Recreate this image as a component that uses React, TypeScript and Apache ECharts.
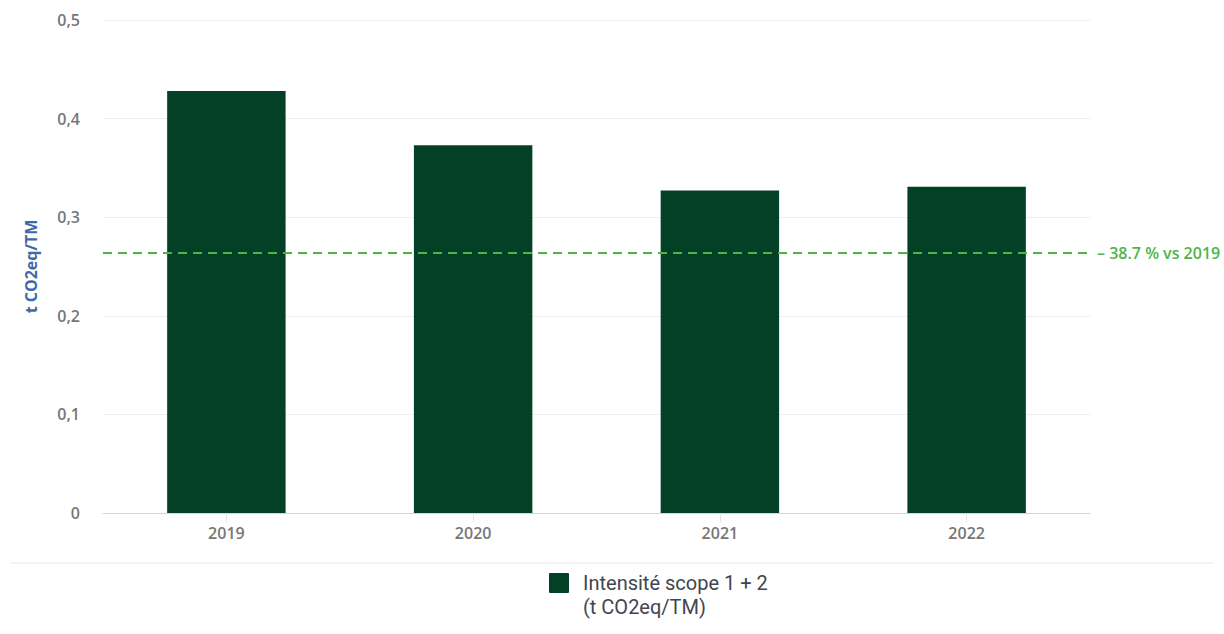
import React, { useEffect, useRef } from "react";
import * as echarts from "echarts";

const categories = ["2019", "2020", "2021", "2022"];
const intensity = [0.428, 0.373, 0.327, 0.331];
const targetValue = 0.264;
const targetLabel = "– 38.7 % vs 2019";
const legendLines = ["Intensité scope 1 + 2", "(t CO2eq/TM)"];
const yAxisName = "t CO2eq/TM";
const barColor = "#034026";

export default function App() {
  const ref = useRef<HTMLDivElement>(null);
  useEffect(() => {
    if (!ref.current) return;
    const chart = echarts.init(ref.current, undefined, { renderer: "svg" });
    chart.setOption({
      animation: false,
      backgroundColor: "#ffffff",
      grid: { left: 103, right: 134, top: 20, bottom: 121, containLabel: false },
      legend: { show: false },
      graphic: [
        {
          type: "line",
          shape: { x1: 10, y1: 563, x2: 1214, y2: 563 },
          style: { stroke: "#e8e8e8", lineWidth: 1 },
        },
        {
          type: "rect",
          shape: { x: 549, y: 573, width: 20, height: 20, r: 1 },
          style: { fill: barColor },
        },
        {
          type: "text",
          x: 583,
          y: 571,
          style: {
            text: legendLines.join("\n"),
            fontFamily: "Roboto",
            fontSize: 20,
            lineHeight: 24,
            fill: "#3f4650",
          },
        },
      ],
      xAxis: {
        type: "category",
        data: categories,
        axisLine: { lineStyle: { color: "#ccd6eb", width: 1 } },
        axisTick: { show: true, alignWithLabel: true, length: 9, lineStyle: { color: "#e0e4f0" } },
        axisLabel: { color: "#777777", fontFamily: "Open Sans", fontSize: 16, fontWeight: 600, margin: 12 },
      },
      yAxis: {
        type: "value",
        min: 0,
        max: 0.5,
        interval: 0.1,
        name: yAxisName,
        nameLocation: "middle",
        nameGap: 64,
        nameRotate: 90,
        nameTextStyle: { color: "#3f6aa6", fontFamily: "Open Sans", fontSize: 16, fontWeight: "bold" },
        axisLine: { show: false },
        axisTick: { show: false },
        splitLine: { lineStyle: { color: "#eeeeee", width: 1 } },
        axisLabel: {
          color: "#777777",
          fontFamily: "Open Sans",
          fontSize: 16,
          fontWeight: 600,
          margin: 23,
          formatter: (v: number) => (v === 0 ? "0" : v.toFixed(1).replace(".", ",")),
        },
      },
      series: [
        {
          name: legendLines.join(" "),
          type: "bar",
          data: intensity,
          barWidth: "48%",
          itemStyle: { color: barColor },
          markLine: {
            silent: true,
            precision: 3,
            symbol: ["none", "none"],
            lineStyle: { color: "#4db548", type: [9, 6], width: 2 },
            label: {
              show: true,
              position: "end",
              formatter: targetLabel,
              color: "#4db548",
              fontFamily: "Open Sans",
              fontSize: 16,
              fontWeight: 600,
              distance: 7,
            },
            data: [{ yAxis: targetValue }],
          },
        },
      ],
    });
    return () => chart.dispose();
  }, []);
  return <div ref={ref} style={{ width: 1224, height: 634, position: "absolute", left: 0, top: 0 }} />;
}
